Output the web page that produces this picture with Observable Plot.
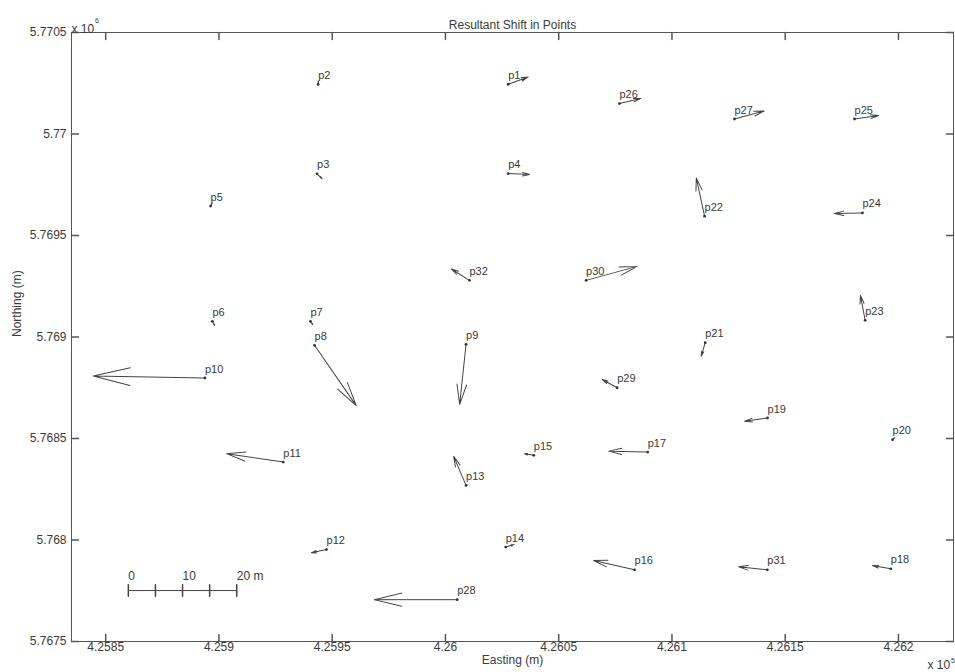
<!DOCTYPE html>
<html>
<head>
<meta charset="utf-8">
<script src="https://cdn.jsdelivr.net/npm/d3@7"></script>
<script src="https://cdn.jsdelivr.net/npm/@observablehq/plot@0.6"></script>
<style>
  html, body { margin: 0; padding: 0; background: #fff; }
  #chart svg { display: block; }
</style>
</head>
<body>
<div id="chart"></div>
<script>
// ---- data ----
const names = ["p1","p2","p3","p4","p5","p6","p7","p8","p9","p10","p11","p12","p13","p14","p15","p16",
               "p17","p18","p19","p20","p21","p22","p23","p24","p25","p26","p27","p28","p29","p30","p31","p32"];
const easting = [426027.7, 425943.8, 425943.3, 426027.7, 425896.3, 425897.1, 425940.4, 425942.2,
                 426009.1, 425893.8, 425928.4, 425947.5, 426009.1, 426026.6, 426039.0, 426083.5,
                 426089.3, 426196.6, 426142.2, 426197.4, 426114.7, 426114.4, 426185.3, 426184.1,
                 426180.6, 426076.8, 426127.6, 426005.2, 426075.8, 426062.1, 426142.1, 426010.6];
const northing = [5770245, 5770244, 5769804, 5769805, 5769645, 5769077, 5769077, 5768959,
                  5768964, 5768798, 5768384, 5767953, 5768269, 5767965, 5768417, 5767853,
                  5768433, 5767858, 5768601, 5768494, 5768972, 5769595, 5769082, 5769611,
                  5770074, 5770150, 5770074, 5767706, 5768750, 5769279, 5767853, 5769279];
// resultant shift (m) east / north
const shiftE = [3.69, 0.05, 0.92, 3.93, 0.30, 0.42, 0.42, 7.69,
                -1.18, -20.59, -10.46, -2.82, -2.29, 1.53, -1.72, -7.56,
                -7.20, -3.39, -4.24, 0.37, -0.74, -1.53, -0.87, -5.17,
                4.43, 3.93, 5.48, -15.26, -2.77, 9.41, -5.30, -3.32];
const shiftN = [1.35, 0.70, -0.89, -0.18, 0.60, -0.74, -0.60, -11.13,
                -11.07, 0.37, 1.55, -0.61, 5.35, 0.50, 0.31, 1.72,
                0.18, 0.61, -0.61, 0.37, -2.47, 7.07, 4.61, -0.11,
                0.63, 0.92, 1.48, 0.00, 1.53, 2.58, 0.55, 2.09];

const xTicks = [425850, 425900, 425950, 426000, 426050, 426100, 426150, 426200];
const xTickLabels = ["4.2585", "4.259", "4.2595", "4.26", "4.2605", "4.261", "4.2615", "4.262"];
const yTicks = [5767500, 5768000, 5768500, 5769000, 5769500, 5770000, 5770500];
const yTickLabels = ["5.7675", "5.768", "5.7685", "5.769", "5.7695", "5.77", "5.7705"];

const scaleBarTicks = [0, 5, 10, 15, 20];        // metres of shift
const scaleBarLabelAt = [0, 10, 20];
const scaleBarLabels = ["0", "10", "20 m"];
const scaleBarStart = {e: 425860, n: 5767751};
const eastingPerMetreShift = 2.393;              // drawing scale of the shift vectors

// ---- layout ----
const W = 955, H = 672;
const mL = 71, mR = 2, mT = 32, mB = 31;
const xDomain = [425834.9, 426224.3];
const yDomain = [5767500, 5770500];
const pxPerE = (W - mL - mR) / (xDomain[1] - xDomain[0]);

const points = names.map((name, i) => ({
  name, e: easting[i], n: northing[i], de: shiftE[i], dn: shiftN[i]
}));

const ink = "#3a3a3a";
const lineShape = {draw(ctx, l) { ctx.moveTo(0, 0); ctx.lineTo(0, -l); }};
const quiverShape = {
  draw(ctx, l) {
    const back = 0.33 * l, side = 0.08 * l;
    ctx.moveTo(0, 0);
    ctx.lineTo(0, -l);
    ctx.moveTo(-side, -l + back);
    ctx.lineTo(0, -l);
    ctx.lineTo(side, -l + back);
  }
};

const chart = Plot.plot({
  width: W, height: H,
  marginLeft: mL, marginRight: mR, marginTop: mT, marginBottom: mB,
  x: {domain: xDomain, axis: null},
  y: {domain: yDomain, axis: null},
  length: {type: "linear", domain: [0, 20], range: [0, 20 * eastingPerMetreShift * pxPerE]},
  style: {fontFamily: "'Liberation Sans', Arial, sans-serif", fontSize: "12px", color: ink, background: "#fff"},
  marks: [
    Plot.frame({stroke: "#555", strokeWidth: 1}),
    // inward ticks on all four sides
    Plot.vector(xTicks, {x: d => d, frameAnchor: "bottom", length: 7, rotate: 0, anchor: "start", shape: lineShape, stroke: "#555"}),
    Plot.vector(xTicks, {x: d => d, frameAnchor: "top", length: 7, rotate: 180, anchor: "start", shape: lineShape, stroke: "#555"}),
    Plot.vector(yTicks, {y: d => d, frameAnchor: "left", length: 7, rotate: 90, anchor: "start", shape: lineShape, stroke: "#555"}),
    Plot.vector(yTicks, {y: d => d, frameAnchor: "right", length: 7, rotate: -90, anchor: "start", shape: lineShape, stroke: "#555"}),
    // tick labels
    Plot.text(xTicks, {x: d => d, frameAnchor: "bottom", dy: 9, text: (d, i) => xTickLabels[i], fill: ink, fontSize: 12}),
    Plot.text(yTicks, {y: d => d, frameAnchor: "left", dx: -5, textAnchor: "end", text: (d, i) => yTickLabels[i], fill: ink, fontSize: 12}),
    // exponent notes
    Plot.text(["x 10"], {frameAnchor: "top-left", text: d => d, textAnchor: "start", dx: 0, dy: -8, fill: ink, fontSize: 12}),
    Plot.text(["6"], {frameAnchor: "top-left", text: d => d, textAnchor: "start", dx: 23.5, dy: -14.5, fill: ink, fontSize: 7}),
    Plot.text(["x 10"], {frameAnchor: "bottom-right", text: d => d, textAnchor: "start", dx: -26, dy: 27, fill: ink, fontSize: 12}),
    Plot.text(["5"], {frameAnchor: "bottom-right", text: d => d, textAnchor: "start", dx: -2.5, dy: 21, fill: ink, fontSize: 7}),
    // titles
    Plot.text(["Resultant Shift in Points"], {frameAnchor: "top", text: d => d, dy: -12, fill: ink, fontSize: 12}),
    Plot.text(["Easting (m)"], {frameAnchor: "bottom", text: d => d, dy: 22, fill: ink, fontSize: 12}),
    Plot.text(["Northing (m)"], {frameAnchor: "left", text: d => d, dx: -54, rotate: -90, fill: ink, fontSize: 12}),
    // shift vectors
    Plot.vector(points, {
      x: "e", y: "n",
      length: d => Math.hypot(d.de, d.dn),
      rotate: d => Math.atan2(d.de, d.dn) * 180 / Math.PI,
      anchor: "start", shape: quiverShape,
      stroke: "#444", strokeWidth: 1
    }),
    Plot.dot(points, {x: "e", y: "n", r: 1.4, fill: "#333", stroke: null}),
    Plot.text(points, {x: "e", y: "n", text: "name", textAnchor: "start", dx: 0, dy: -9, fill: ink, fontSize: 11}),
    // scale bar
    Plot.link([scaleBarStart], {
      x1: d => d.e, x2: d => d.e + 20 * eastingPerMetreShift,
      y1: d => d.n, y2: d => d.n, stroke: "#444", strokeWidth: 1
    }),
    Plot.vector(scaleBarTicks, {
      x: m => scaleBarStart.e + m * eastingPerMetreShift, y: () => scaleBarStart.n,
      length: 11.4, rotate: 0, anchor: "middle", shape: lineShape, stroke: "#444"
    }),
    Plot.text(scaleBarLabelAt, {
      x: m => scaleBarStart.e + m * eastingPerMetreShift, y: () => scaleBarStart.n,
      text: (m, i) => scaleBarLabels[i], textAnchor: "start", dy: -14, fill: ink, fontSize: 12
    })
  ]
});
document.getElementById("chart").appendChild(chart);
</script>
</body>
</html>
